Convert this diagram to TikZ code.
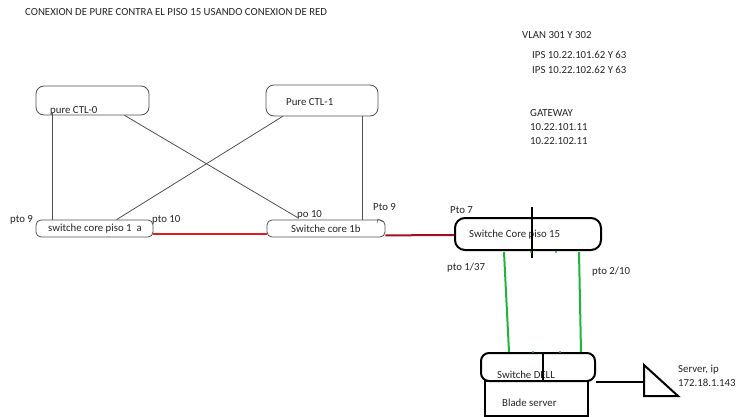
\documentclass[tikz,border=0pt]{standalone}
\usepackage{fontspec}
\setmainfont{Carlito}
\usetikzlibrary{calc}
\definecolor{txt}{HTML}{252525}
\definecolor{thinln}{HTML}{505050}
\definecolor{redln}{HTML}{E01A22}
\definecolor{darkred}{HTML}{9E1020}
\definecolor{greenln}{HTML}{22B43A}
\tikzset{
  lbl/.style={font=\fontsize{10.8}{12}\selectfont, text=txt, inner sep=0pt, anchor=west},
  thinbox/.style={draw=thinln, line width=0.8pt, rounded corners=8pt, inner sep=0pt},
  thickbox/.style={draw=black, line width=2pt, rounded corners=8pt, inner sep=0pt},
  thinline/.style={draw=thinln, line width=0.8pt},
  redlink/.style={draw=redln, line width=2pt},
  darkredlink/.style={draw=darkred, line width=2pt},
  greenlink/.style={draw=greenln, line width=2pt},
  thickline/.style={draw=black, line width=2pt},
}
\begin{document}
\begin{tikzpicture}[x=1pt,y=-1pt]
\useasboundingbox (0,0) rectangle (739,417);

% title and notes
\node[lbl] (title) at (25,12) {CONEXION DE PURE CONTRA EL PISO 15 USANDO CONEXION DE RED};
\node[lbl] (vlan) at (522,35) {VLAN 301 Y 302};
\node[lbl] (ips1) at (532,55) {IPS 10.22.101.62 Y 63};
\node[lbl] (ips2) at (532,70) {IPS 10.22.102.62 Y 63};
\node[lbl] (gw) at (530,113) {GATEWAY};
\node[lbl] (gw1) at (530,127) {10.22.101.11};
\node[lbl] (gw2) at (530,141) {10.22.102.11};

% boxes
\node[thinbox, minimum width=113pt, minimum height=29pt] (ctl0) at (92.5,100.5) {};
\node[thinbox, minimum width=112pt, minimum height=31pt] (ctl1) at (322,100.5) {};
\node[thinbox, minimum width=117pt, minimum height=17pt, rounded corners=5pt] (a1) at (94.5,228.5) {};
\node[thinbox, minimum width=118pt, minimum height=17pt, rounded corners=5pt] (b1) at (326,228.5) {};
\node[thickbox, minimum width=146pt, minimum height=32pt, rounded corners=10pt] (p15) at (528,234) {};
\node[draw=black, line width=2pt, minimum width=103pt, minimum height=35pt, inner sep=0pt] (blade) at (536.5,398.5) {};
\node[thickbox, fill=white, minimum width=114pt, minimum height=28pt] (dell) at (538,367) {};

% box texts
\node[lbl] (ctl0t) at (50,111) {pure CTL-0};
\node[lbl] (ctl1t) at (286,102) {Pure CTL-1};
\node[lbl] (a1t) at (48,229) {switche core piso 1\ \ a};
\node[lbl] (b1t) at (291,229) {Switche core 1b};
\node[lbl] (p15t) at (469,235) {Switche Core piso 15};
\node[lbl] (dellt) at (497,375) {Switche DELL};
\node[lbl] (bladet) at (502,403) {Blade server};

% port labels
\node[lbl] (pto9a) at (10,220) {pto 9};
\node[lbl] (pto10a) at (152,220) {pto 10};
\node[lbl] (po10) at (297,215) {po 10};
\node[lbl] (pto9b) at (373,207) {Pto 9};
\node[lbl] (pto7) at (450,210) {Pto 7};
\node[lbl] (pto137) at (447,268) {pto 1/37};
\node[lbl] (pto210) at (592,272) {pto 2/10};
\node[lbl] (srv1) at (678,370) {Server, ip};
\node[lbl] (srv2) at (678,383) {172.18.1.143};

% thin links
\draw[thinline] ($(ctl0.south west)+(17,-2)$) -- ($(a1.north west)+(17,0)$);
\draw[thinline] ($(ctl0.south west)+(89,0)$) -- ($(b1.north west)+(31,-2)$);
\draw[thinline] ($(ctl1.south west)+(17,0)$) -- ($(a1.north west)+(81,0)$);
\draw[thinline] ($(ctl1.south west)+(97,0)$) -- ($(b1.north west)+(96,0)$);
% small scribble under Pto 9
\coordinate (sc1) at (377,223);
\coordinate (sc2) at (378,219);
\coordinate (sc3) at (383,222);
\draw[thinline, line width=0.5pt] (sc1) -- (sc2) -- (sc3);

% red links
\draw[redlink] ($(a1.south east)+(0,-3)$) -- ($(b1.south west)+(0,-3)$);
\draw[darkredlink] ($(b1.south east)+(0,-2)$) -- ($(p15.west)+(0,1)$);

% piso 15 mark
\coordinate (m1) at (532,207);
\coordinate (m2) at (532,258);
\draw[thickline] (m1) -- (m2);

% green links
\draw[greenlink] ($(p15.south west)+(50,1)$) -- ($(dell.north west)+(29,0)$);
\draw[greenlink] ($(p15.south west)+(125,1)$) -- ($(dell.north west)+(101,0)$);
\fill[greenln] ($(p15.south west)+(77,1)$) circle (1.2pt);
\fill[greenln] ($(p15.south west)+(102,1)$) circle (1.2pt);
\fill[greenln] ($(dell.north west)+(53,0)$) circle (1.2pt);
\fill[greenln] ($(dell.north west)+(80,0)$) circle (1.2pt);

% dell mark
\draw[thickline] ($(dell.north west)+(63,0)$) -- ($(dell.south west)+(63,0)$);

% server
\coordinate (t1) at (644,365);
\coordinate (t2) at (644,396);
\coordinate (t3) at (678,396);
\draw[thickline, line join=miter] (t1) -- (t2) -- (t3) -- cycle;
\draw[thickline] (dell.south east) -- (t1 |- dell.south east);
\end{tikzpicture}
\end{document}
